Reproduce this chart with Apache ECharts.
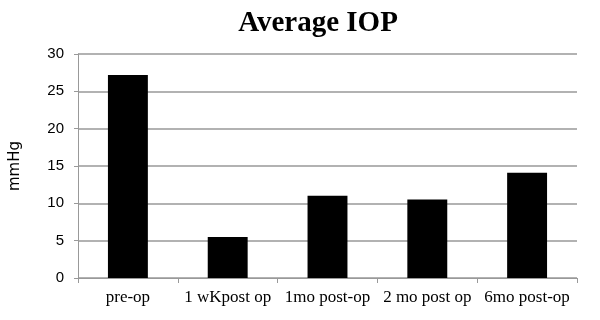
<!DOCTYPE html>
<html>
<head>
<meta charset="utf-8">
<script src="https://cdn.jsdelivr.net/npm/echarts@6/dist/echarts.min.js"></script>
<style>
  html, body { margin: 0; padding: 0; background: #fff; }
  #container { width: 600px; height: 320px; }
</style>
</head>
<body>
<div id="container"></div>
<script>
"use strict";

// 平均眼压
const categories = ["pre-op", "1 wKpost op", "1mo post-op", "2 mo post op", "6mo post-op"];
const iopValues = [27.2, 5.5, 11.0, 10.5, 14.1];

let myChart = echarts.init(document.getElementById('container'));

let option = {
  animation: false,
  title: {
    text: "Average IOP",
    left: 313,
    textAlign: 'center',
    top: 4,
    textStyle: {
      fontFamily: 'Liberation Serif',
      fontSize: 29,
      fontWeight: 'bold',
      color: '#000',
    },
  },
  grid: {
    left: 76,
    right: 23,
    top: 54,
    bottom: 42,
  },
  xAxis: {
    type: 'category',
    data: categories,
    axisLine: {
      lineStyle: { color: '#999', width: 1 },
    },
    axisTick: {
      show: true,
      length: 5,
      lineStyle: { color: '#999' },
    },
    axisLabel: {
      interval: 0,
      hideOverlap: false,
      margin: 11,
      fontFamily: 'Liberation Serif',
      fontSize: 17,
      color: '#000',
    },
  },
  yAxis: {
    type: 'value',
    name: "mmHg",
    nameLocation: 'middle',
    nameRotate: 90,
    nameGap: 55,
    nameTextStyle: {
      fontFamily: 'DejaVu Sans',
      fontSize: 15,
      color: '#000',
    },
    min: 0,
    max: 30,
    interval: 5,
    axisLine: {
      show: true,
      lineStyle: { color: '#999', width: 1 },
    },
    axisTick: {
      show: true,
      length: 4,
      lineStyle: { color: '#999' },
    },
    axisLabel: {
      margin: 14,
      fontFamily: 'Liberation Sans',
      fontSize: 15,
      color: '#000',
    },
    splitLine: {
      lineStyle: { color: '#999', width: 1.5 },
    },
  },
  series: [
    {
      type: 'bar',
      data: iopValues,
      barWidth: '40%',
      itemStyle: {
        color: '#000',
      },
    },
  ],
};

myChart.setOption(option);
</script>
</body>
</html>
